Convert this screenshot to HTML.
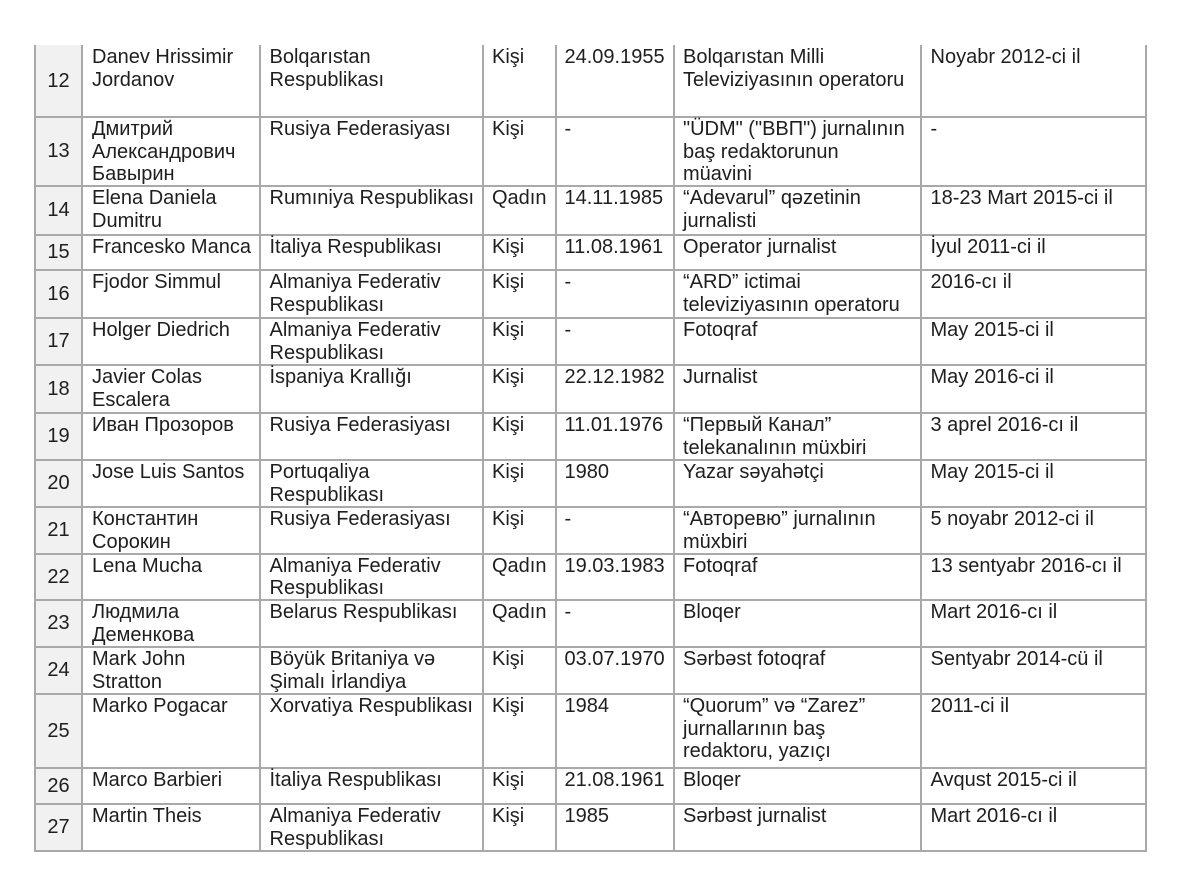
<!DOCTYPE html>
<html><head><meta charset="utf-8">
<style>
html,body{margin:0;padding:0;background:#fff;}
#c{position:relative;width:1178px;height:881px;overflow:hidden;background:#fff;font-family:"Liberation Sans",Arial,"Noto Sans CJK SC",sans-serif;font-size:20px;line-height:22.5px;color:#1e1e1e;}
.bg{position:absolute;left:35px;top:45px;width:47px;height:806px;background:#f1f1f1;}
.v{position:absolute;top:45px;height:807px;width:2px;background:#a9a9a9;}
.h{position:absolute;left:34px;width:1113px;height:2px;background:#a9a9a9;}
.t{position:absolute;white-space:nowrap;}
.n{position:absolute;left:35px;width:47px;display:flex;align-items:center;justify-content:center;}
</style></head><body><div id="c">
<div class="bg"></div>
<!-- vertical lines -->
<div class="v" style="left:34px"></div>
<div class="v" style="left:81px"></div>
<div class="v" style="left:259px"></div>
<div class="v" style="left:482px"></div>
<div class="v" style="left:554.5px"></div>
<div class="v" style="left:673px"></div>
<div class="v" style="left:920px"></div>
<div class="v" style="left:1145px"></div>
<!-- horizontal lines -->
<div class="h" style="top:116px"></div>
<div class="h" style="top:185px"></div>
<div class="h" style="top:233.5px"></div>
<div class="h" style="top:269px"></div>
<div class="h" style="top:317px"></div>
<div class="h" style="top:364px"></div>
<div class="h" style="top:412px"></div>
<div class="h" style="top:459px"></div>
<div class="h" style="top:506px"></div>
<div class="h" style="top:552.5px"></div>
<div class="h" style="top:599px"></div>
<div class="h" style="top:646px"></div>
<div class="h" style="top:693px"></div>
<div class="h" style="top:767px"></div>
<div class="h" style="top:803px"></div>
<div class="h" style="top:850px"></div>

<!-- numbers -->
<div class="n" style="top:45px;height:72px">12</div>
<div class="n" style="top:117px;height:69px">13</div>
<div class="n" style="top:186px;height:48.5px">14</div>
<div class="n" style="top:234.5px;height:35.5px">15</div>
<div class="n" style="top:270px;height:48px">16</div>
<div class="n" style="top:318px;height:47px">17</div>
<div class="n" style="top:365px;height:48px">18</div>
<div class="n" style="top:413px;height:47px">19</div>
<div class="n" style="top:460px;height:47px">20</div>
<div class="n" style="top:507px;height:46.5px">21</div>
<div class="n" style="top:553.5px;height:46.5px">22</div>
<div class="n" style="top:600px;height:47px">23</div>
<div class="n" style="top:647px;height:47px">24</div>
<div class="n" style="top:694px;height:74px">25</div>
<div class="n" style="top:768px;height:36px">26</div>
<div class="n" style="top:804px;height:47px">27</div>

<!-- row 12 -->
<div class="t" style="left:92px;top:46px">Danev Hrissimir<br>Jordanov</div>
<div class="t" style="left:269.5px;top:46px">Bolqarıstan<br>Respublikası</div>
<div class="t" style="left:492px;top:46px">Kişi</div>
<div class="t" style="left:564.5px;top:46px">24.09.1955</div>
<div class="t" style="left:683px;top:46px">Bolqarıstan Milli<br>Televiziyasının operatoru</div>
<div class="t" style="left:930.5px;top:46px">Noyabr 2012-ci il</div>

<!-- row 13 -->
<div class="t" style="left:92px;top:118px">Дмитрий<br>Александрович<br>Бавырин</div>
<div class="t" style="left:269.5px;top:118px">Rusiya Federasiyası</div>
<div class="t" style="left:492px;top:118px">Kişi</div>
<div class="t" style="left:564.5px;top:118px">-</div>
<div class="t" style="left:683px;top:118px">"ÜDM" ("ВВП") jurnalının<br>baş redaktorunun<br>müavini</div>
<div class="t" style="left:930.5px;top:118px">-</div>

<!-- row 14 -->
<div class="t" style="left:92px;top:187px">Elena Daniela<br>Dumitru</div>
<div class="t" style="left:269.5px;top:187px">Rumıniya Respublikası</div>
<div class="t" style="left:492px;top:187px">Qadın</div>
<div class="t" style="left:564.5px;top:187px">14.11.1985</div>
<div class="t" style="left:683px;top:187px">“Adevarul” qəzetinin<br>jurnalisti</div>
<div class="t" style="left:930.5px;top:187px">18-23 Mart 2015-ci il</div>

<!-- row 15 -->
<div class="t" style="left:92px;top:235.5px">Francesko Manca</div>
<div class="t" style="left:269.5px;top:235.5px">İtaliya Respublikası</div>
<div class="t" style="left:492px;top:235.5px">Kişi</div>
<div class="t" style="left:564.5px;top:235.5px">11.08.1961</div>
<div class="t" style="left:683px;top:235.5px">Operator jurnalist</div>
<div class="t" style="left:930.5px;top:235.5px">İyul 2011-ci il</div>

<!-- row 16 -->
<div class="t" style="left:92px;top:271px">Fjodor Simmul</div>
<div class="t" style="left:269.5px;top:271px">Almaniya Federativ<br>Respublikası</div>
<div class="t" style="left:492px;top:271px">Kişi</div>
<div class="t" style="left:564.5px;top:271px">-</div>
<div class="t" style="left:683px;top:271px">“ARD” ictimai<br>televiziyasının operatoru</div>
<div class="t" style="left:930.5px;top:271px">2016-cı il</div>

<!-- row 17 -->
<div class="t" style="left:92px;top:319px">Holger Diedrich</div>
<div class="t" style="left:269.5px;top:319px">Almaniya Federativ<br>Respublikası</div>
<div class="t" style="left:492px;top:319px">Kişi</div>
<div class="t" style="left:564.5px;top:319px">-</div>
<div class="t" style="left:683px;top:319px">Fotoqraf</div>
<div class="t" style="left:930.5px;top:319px">May 2015-ci il</div>

<!-- row 18 -->
<div class="t" style="left:92px;top:366px">Javier Colas<br>Escalera</div>
<div class="t" style="left:269.5px;top:366px">İspaniya Krallığı</div>
<div class="t" style="left:492px;top:366px">Kişi</div>
<div class="t" style="left:564.5px;top:366px">22.12.1982</div>
<div class="t" style="left:683px;top:366px">Jurnalist</div>
<div class="t" style="left:930.5px;top:366px">May 2016-ci il</div>

<!-- row 19 -->
<div class="t" style="left:92px;top:414px">Иван Прозоров</div>
<div class="t" style="left:269.5px;top:414px">Rusiya Federasiyası</div>
<div class="t" style="left:492px;top:414px">Kişi</div>
<div class="t" style="left:564.5px;top:414px">11.01.1976</div>
<div class="t" style="left:683px;top:414px">“Первый Канал”<br>telekanalının müxbiri</div>
<div class="t" style="left:930.5px;top:414px">3 aprel 2016-cı il</div>

<!-- row 20 -->
<div class="t" style="left:92px;top:461px">Jose Luis Santos</div>
<div class="t" style="left:269.5px;top:461px">Portuqaliya<br>Respublikası</div>
<div class="t" style="left:492px;top:461px">Kişi</div>
<div class="t" style="left:564.5px;top:461px">1980</div>
<div class="t" style="left:683px;top:461px">Yazar səyahətçi</div>
<div class="t" style="left:930.5px;top:461px">May 2015-ci il</div>

<!-- row 21 -->
<div class="t" style="left:92px;top:508px">Константин<br>Сорокин</div>
<div class="t" style="left:269.5px;top:508px">Rusiya Federasiyası</div>
<div class="t" style="left:492px;top:508px">Kişi</div>
<div class="t" style="left:564.5px;top:508px">-</div>
<div class="t" style="left:683px;top:508px">“Авторевю” jurnalının<br>müxbiri</div>
<div class="t" style="left:930.5px;top:508px">5 noyabr 2012-ci il</div>

<!-- row 22 -->
<div class="t" style="left:92px;top:554.5px">Lena Mucha</div>
<div class="t" style="left:269.5px;top:554.5px">Almaniya Federativ<br>Respublikası</div>
<div class="t" style="left:492px;top:554.5px">Qadın</div>
<div class="t" style="left:564.5px;top:554.5px">19.03.1983</div>
<div class="t" style="left:683px;top:554.5px">Fotoqraf</div>
<div class="t" style="left:930.5px;top:554.5px">13 sentyabr 2016-cı il</div>

<!-- row 23 -->
<div class="t" style="left:92px;top:601px">Людмила<br>Деменкова</div>
<div class="t" style="left:269.5px;top:601px">Belarus Respublikası</div>
<div class="t" style="left:492px;top:601px">Qadın</div>
<div class="t" style="left:564.5px;top:601px">-</div>
<div class="t" style="left:683px;top:601px">Bloqer</div>
<div class="t" style="left:930.5px;top:601px">Mart 2016-cı il</div>

<!-- row 24 -->
<div class="t" style="left:92px;top:648px">Mark John<br>Stratton</div>
<div class="t" style="left:269.5px;top:648px">Böyük Britaniya və<br>Şimalı İrlandiya</div>
<div class="t" style="left:492px;top:648px">Kişi</div>
<div class="t" style="left:564.5px;top:648px">03.07.1970</div>
<div class="t" style="left:683px;top:648px">Sərbəst fotoqraf</div>
<div class="t" style="left:930.5px;top:648px">Sentyabr 2014-cü il</div>

<!-- row 25 -->
<div class="t" style="left:92px;top:695px">Marko Pogacar</div>
<div class="t" style="left:269.5px;top:695px">Xorvatiya Respublikası</div>
<div class="t" style="left:492px;top:695px">Kişi</div>
<div class="t" style="left:564.5px;top:695px">1984</div>
<div class="t" style="left:683px;top:695px">“Quorum” və “Zarez”<br>jurnallarının baş<br>redaktoru, yazıçı</div>
<div class="t" style="left:930.5px;top:695px">2011-ci il</div>

<!-- row 26 -->
<div class="t" style="left:92px;top:769px">Marco Barbieri</div>
<div class="t" style="left:269.5px;top:769px">İtaliya Respublikası</div>
<div class="t" style="left:492px;top:769px">Kişi</div>
<div class="t" style="left:564.5px;top:769px">21.08.1961</div>
<div class="t" style="left:683px;top:769px">Bloqer</div>
<div class="t" style="left:930.5px;top:769px">Avqust 2015-ci il</div>

<!-- row 27 -->
<div class="t" style="left:92px;top:805px">Martin Theis</div>
<div class="t" style="left:269.5px;top:805px">Almaniya Federativ<br>Respublikası</div>
<div class="t" style="left:492px;top:805px">Kişi</div>
<div class="t" style="left:564.5px;top:805px">1985</div>
<div class="t" style="left:683px;top:805px">Sərbəst jurnalist</div>
<div class="t" style="left:930.5px;top:805px">Mart 2016-cı il</div>
</div></body></html>
